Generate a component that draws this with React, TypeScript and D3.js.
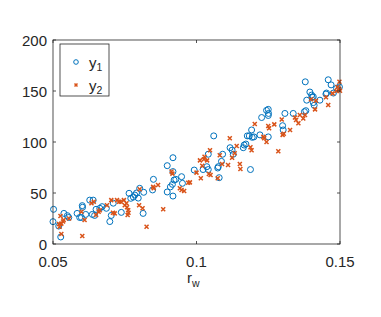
import * as d3 from "d3";

const width = 381;
const height = 317;
const marginLeft = 53;
const marginRight = 41;
const marginTop = 40;
const marginBottom = 73;

const xTicks = [0.05, 0.1, 0.15];
const yTicks = [0, 50, 100, 150, 200];
const xTickLabels = ["0.05", "0.1", "0.15"];
const yTickLabels = ["0", "50", "100", "150", "200"];
const seriesNames = ["y", "y"];
const seriesSubs = ["1", "2"];

// y1 (circles)
const y1X = [0.05, 0.0502, 0.052, 0.0527, 0.0538, 0.055, 0.0555, 0.0584, 0.0593, 0.0599, 0.0602, 0.0603, 0.0614, 0.0628, 0.064, 0.0637, 0.0645, 0.065, 0.0663, 0.0671, 0.0686, 0.0698, 0.0703, 0.071, 0.0738, 0.0765, 0.0771, 0.078, 0.0785, 0.0791, 0.0797, 0.0802, 0.0816, 0.0814, 0.0847, 0.085, 0.0898, 0.0898, 0.0909, 0.0916, 0.0918, 0.0918, 0.0918, 0.0922, 0.0928, 0.0948, 0.0951, 0.0992, 0.1023, 0.1036, 0.1041, 0.1041, 0.106, 0.1074, 0.1076, 0.1079, 0.1087, 0.1091, 0.1117, 0.1124, 0.1128, 0.1163, 0.1166, 0.1172, 0.1177, 0.1184, 0.1188, 0.1192, 0.1194, 0.12, 0.1221, 0.1227, 0.1244, 0.125, 0.1251, 0.125, 0.125, 0.13, 0.1302, 0.1308, 0.1337, 0.1376, 0.1379, 0.1381, 0.1384, 0.1395, 0.1401, 0.1403, 0.1407, 0.1407, 0.141, 0.143, 0.1451, 0.1453, 0.1459, 0.1469, 0.1477, 0.1488, 0.1498];
const y1Y = [21.9, 34, 17.6, 6.9, 30, 27.8, 26, 30, 26, 26, 37.6, 36, 29, 43, 43, 29, 28, 34, 35, 36.6, 35, 22, 28, 40, 31, 49.7, 44.8, 46, 48, 50, 45, 54.6, 50.7, 30, 53, 63.4, 76.8, 51, 56, 58.5, 71, 84.6, 47, 62.7, 63.4, 66, 59.5, 72.5, 73, 75.8, 88, 73, 106, 74.5, 75.8, 65, 81, 88, 94.4, 92, 88, 94.4, 97, 98, 106, 106, 73, 111.8, 104.6, 105, 107, 124, 131, 132, 128, 126, 105, 116, 111.8, 128, 128, 129.7, 159, 130.7, 141, 149, 146, 144, 144.4, 138.6, 136, 141, 147, 148, 161, 156, 148, 152.6, 154];

// y2 (crosses)
const y2X = [0.0529, 0.0526, 0.0521, 0.0529, 0.0535, 0.0537, 0.0523, 0.0556, 0.0599, 0.0602, 0.061, 0.0634, 0.0642, 0.065, 0.0659, 0.0663, 0.0688, 0.0703, 0.0709, 0.0715, 0.0723, 0.073, 0.0736, 0.0747, 0.075, 0.0756, 0.076, 0.0763, 0.0762, 0.0758, 0.08, 0.0802, 0.0812, 0.0826, 0.0849, 0.0851, 0.0866, 0.0884, 0.0913, 0.0916, 0.0942, 0.0948, 0.0957, 0.0971, 0.0977, 0.1, 0.1015, 0.1012, 0.102, 0.1026, 0.1028, 0.1037, 0.1043, 0.1047, 0.1049, 0.1074, 0.1081, 0.1089, 0.111, 0.1116, 0.1124, 0.1133, 0.114, 0.1151, 0.1153, 0.1188, 0.1192, 0.1203, 0.1233, 0.1236, 0.1244, 0.125, 0.1253, 0.1271, 0.1285, 0.1297, 0.13, 0.1304, 0.1326, 0.1343, 0.1347, 0.1355, 0.136, 0.1372, 0.1378, 0.1399, 0.1413, 0.1416, 0.1451, 0.1459, 0.1474, 0.1488, 0.1491, 0.1497, 0.1498, 0.15];
const y2Y = [9.8, 27.5, 19.6, 20, 22, 23.5, 17, 25, 31.7, 7.8, 23.5, 40, 41.5, 28.4, 31.7, 33, 38, 43, 30.7, 30, 43, 41.5, 41.5, 43, 38, 40, 28.4, 30.7, 33, 36, 38, 53.6, 35, 17, 56, 54.6, 57.8, 34, 71, 69, 54.6, 53, 52, 60, 60.4, 70, 64.4, 82, 76.8, 83, 85.6, 82, 68.6, 92, 67.6, 64.4, 87, 78.4, 77.5, 103.6, 84.6, 89, 96, 78.4, 73.5, 94.8, 92, 117.6, 105, 103.6, 100, 115.7, 113.4, 117.3, 91, 122, 107, 108, 111.8, 124, 121.6, 118.3, 126.5, 123, 126.5, 142, 132, 140.5, 143.8, 136.3, 147.7, 150, 154, 152, 159, 150.3];

const blue = "#0072BD";
const orange = "#D95319";
const axisColor = "#262626";
const font = "Liberation Sans, Arial, sans-serif";

const xPath = (cx: number, cy: number, s: number) =>
  `M${cx - s},${cy - s}L${cx + s},${cy + s}M${cx - s},${cy + s}L${cx + s},${cy - s}`;

const App = () => {
  const x = d3.scaleLinear([0.05, 0.15], [marginLeft, width - marginRight]);
  const y = d3.scaleLinear([0, 200], [height - marginBottom, marginTop]);
  const x0 = marginLeft, x1 = width - marginRight;
  const yb = height - marginBottom, yt = marginTop;
  const tl = 3;
  return (
    <svg width={width} height={height} style={{ position: "absolute", left: 0, top: 0, background: "white" }}>
      <rect width={width} height={height} fill="white" />
      <g>
        {y1X.map((d, i) => (
          <circle key={"a" + i} cx={x(d)} cy={y(y1Y[i])} r={3} fill="none" stroke={blue} strokeWidth={1} />
        ))}
        {y2X.map((d, i) => (
          <path key={"b" + i} d={xPath(x(d), y(y2Y[i]), 2)} stroke={orange} strokeWidth={1.5} fill="none" />
        ))}
      </g>
      <rect x={x0} y={yt} width={x1 - x0} height={yb - yt} fill="none" stroke={axisColor} strokeWidth={0.8} />
      {xTicks.map((t, i) => (
        <g key={"xt" + i}>
          <line x1={x(t)} x2={x(t)} y1={yb} y2={yb - tl} stroke={axisColor} strokeWidth={0.8} />
          <line x1={x(t)} x2={x(t)} y1={yt} y2={yt + tl} stroke={axisColor} strokeWidth={0.8} />
          <text x={x(t)} y={yb + 23} textAnchor="middle" fontSize={15} fontFamily={font} fill={axisColor}>
            {xTickLabels[i]}
          </text>
        </g>
      ))}
      {yTicks.map((t, i) => (
        <g key={"yt" + i}>
          <line x1={x0} x2={x0 + tl} y1={y(t)} y2={y(t)} stroke={axisColor} strokeWidth={0.8} />
          <line x1={x1} x2={x1 - tl} y1={y(t)} y2={y(t)} stroke={axisColor} strokeWidth={0.8} />
          <text x={x0 - 6} y={y(t) + 5.5} textAnchor="end" fontSize={15} fontFamily={font} fill={axisColor}>
            {yTickLabels[i]}
          </text>
        </g>
      ))}
      <text x={187} y={283} fontSize={15} fontFamily={font} fill={axisColor}>
        r<tspan fontSize={10.5} dy={4}>w</tspan>
      </text>
      <g>
        <rect x={60} y={44} width={49} height={52} fill="white" stroke={axisColor} strokeWidth={0.8} />
        <circle cx={76} cy={62} r={2.3} fill="none" stroke={blue} strokeWidth={1} />
        <path d={xPath(76, 85, 1.5)} stroke={orange} strokeWidth={1.5} fill="none" />
        {seriesNames.map((n, i) => (
          <text key={"l" + i} x={89} y={i === 0 ? 68 : 91} fontSize={15} fontFamily={font} fill={axisColor}>
            {n}<tspan fontSize={10.5} dy={3}>{seriesSubs[i]}</tspan>
          </text>
        ))}
      </g>
    </svg>
  );
};

export default App;
